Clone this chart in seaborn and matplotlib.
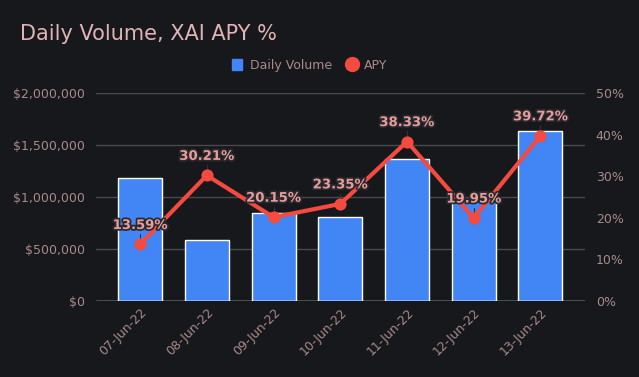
import matplotlib
matplotlib.use("Agg")
import matplotlib.pyplot as plt
import matplotlib.patheffects as pe
from matplotlib.ticker import FuncFormatter, MultipleLocator
from matplotlib.lines import Line2D
from matplotlib.patches import Patch
import pandas as pd
import seaborn as sns

# --- Data ---
dates = ["07-Jun-22", "08-Jun-22", "09-Jun-22", "10-Jun-22",
         "11-Jun-22", "12-Jun-22", "13-Jun-22"]
daily_volume = [1185000, 587000, 848000, 805000, 1365000, 975000, 1638000]
apy = [13.59, 30.21, 20.15, 23.35, 38.33, 19.95, 39.72]

bg = "#17181c"
txt = "#a88a8a"
bar_color = "#4285f4"
line_color = "#f44a3f"
label_color = "#e89c9c"

df = pd.DataFrame({"date": dates, "volume": daily_volume, "apy": apy})

sns.set_style("dark")
plt.rcParams["font.family"] = ["DejaVu Sans"]

fig = plt.figure(figsize=(6.39, 3.77), dpi=100, facecolor=bg)
ax = fig.add_axes([0.150, 0.2016, 0.765, 0.5515])
ax.set_facecolor(bg)

sns.barplot(data=df, x="date", y="volume", ax=ax, color=bar_color,
            width=0.66, edgecolor="white", linewidth=1, saturation=1,
            zorder=2)
ax.set_ylim(0, 2000000)
ax.yaxis.set_major_locator(MultipleLocator(500000))
ax.yaxis.set_major_formatter(FuncFormatter(lambda v, p: f"${v:,.0f}"))
ax.grid(axis="y", color="#4a4a4e", linewidth=1, zorder=0)
ax.set_axisbelow(True)
ax.set_xlabel("")
ax.set_ylabel("")
ax.tick_params(axis="both", colors=txt, labelsize=9, length=0)
ax.tick_params(axis="y", pad=8)
for lbl in ax.get_xticklabels():
    lbl.set_rotation(45)
    lbl.set_ha("right")
    lbl.set_rotation_mode("anchor")
for s in ax.spines.values():
    s.set_visible(False)
ax.axhline(0, color="white", linewidth=1, zorder=3)

ax2 = ax.twinx()
sns.pointplot(data=df, x="date", y="apy", ax=ax2, color=line_color,
              markers="o", markersize=6.5, linewidth=3)
ax2.set_ylim(0, 50)
ax2.yaxis.set_major_locator(MultipleLocator(10))
ax2.yaxis.set_major_formatter(FuncFormatter(lambda v, p: f"{v:.0f}%"))
ax2.set_ylabel("")
ax2.tick_params(axis="y", colors=txt, labelsize=9, length=0, pad=8)
ax2.grid(False)
for s in ax2.spines.values():
    s.set_visible(False)

for i, v in enumerate(apy):
    ax2.plot([i, i], [v, v + 2.5], color="#333338", linewidth=0.8, zorder=1)
    ax2.annotate(f"{v:.2f}%", (i, v), xytext=(0, 9), textcoords="offset points",
                 ha="center", va="bottom", color=label_color, fontsize=9.5,
                 fontweight="bold",
                 path_effects=[pe.withStroke(linewidth=2.5, foreground="#2a2a2e")])

fig.text(0.031, 0.91, "Daily Volume, XAI APY %", color="#e0b4b4", fontsize=15,
         va="center")

handles = [Patch(facecolor=bar_color, edgecolor=bar_color, label="Daily Volume"),
           Line2D([0], [0], marker="o", linestyle="", markersize=10,
                  markerfacecolor=line_color, markeredgecolor=line_color,
                  label="APY")]
fig.legend(handles=handles, loc="center", bbox_to_anchor=(0.485, 0.826), ncol=2,
           frameon=False, fontsize=9, labelcolor=txt, handlelength=0.8,
           handleheight=1.0, columnspacing=1.2, handletextpad=0.6)

fig.savefig("out.png", dpi=100, facecolor=bg)
